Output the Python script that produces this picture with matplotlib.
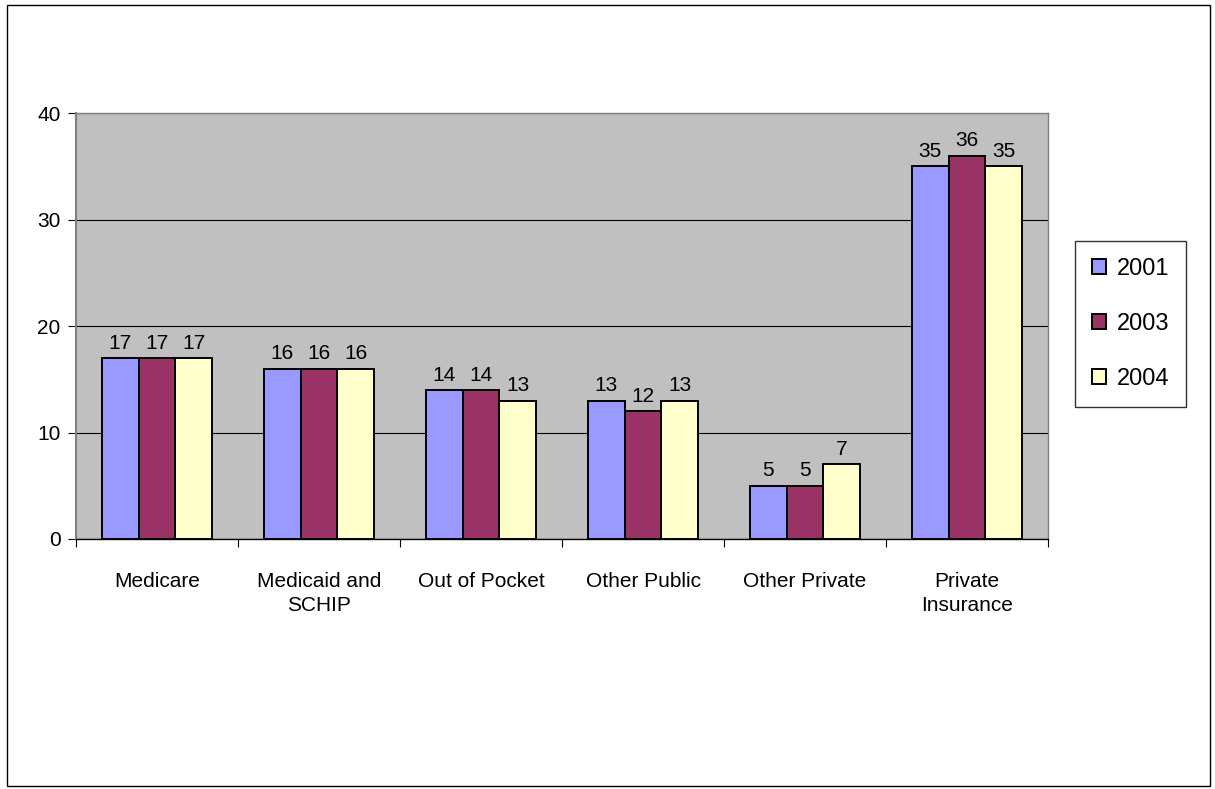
import matplotlib
matplotlib.use("Agg")
import matplotlib.pyplot as plt
import numpy as np
from matplotlib.patches import Rectangle

categories = ["Medicare", "Medicaid and\nSCHIP", "Out of Pocket", "Other Public",
              "Other Private", "Private\nInsurance"]
years = ["2001", "2003", "2004"]
v2001 = [17, 16, 14, 13, 5, 35]
v2003 = [17, 16, 14, 12, 5, 36]
v2004 = [17, 16, 13, 13, 7, 35]
series = [v2001, v2003, v2004]
colors = ["#9999FF", "#993366", "#FFFFCC"]

plt.rcParams["font.family"] = ["Liberation Sans", "DejaVu Sans"]

W, H = 1215, 789
fig = plt.figure(figsize=(W / 100, H / 100), dpi=100)
fig.patch.set_facecolor("white")

# outer chart border
fig.add_artist(Rectangle((7 / W, 1 - 786 / H), (1210 - 7) / W, (786 - 5) / H,
                         transform=fig.transFigure, fill=False,
                         edgecolor="black", linewidth=1.0))

x0, x1, y0, y1 = 76, 1048, 113, 539
ax = fig.add_axes([x0 / W, 1 - y1 / H, (x1 - x0) / W, (y1 - y0) / H])
ax.set_facecolor("#C0C0C0")

n = len(categories)
x = np.arange(n)
bw = 0.227
for i, (vals, c) in enumerate(zip(series, colors)):
    pos = x + (i - 1) * bw
    ax.bar(pos, vals, width=bw, color=c, edgecolor="black",
           linewidth=1.4, label=years[i], zorder=3)
    for p, v in zip(pos, vals):
        ax.text(p, v + 0.5, str(v), ha="center", va="bottom", fontsize=15, zorder=4)

ax.set_xlim(-0.5, n - 0.5)
ax.set_ylim(0, 40)
ax.set_yticks([0, 10, 20, 30, 40])
ax.yaxis.grid(True, color="black", linewidth=0.8, zorder=1)
ax.set_axisbelow(True)

ax.set_xticks(np.arange(-0.5, n, 1.0), minor=False)
ax.set_xticklabels([])
ax.set_xticks(x, minor=True)
ax.set_xticklabels(categories, minor=True, fontsize=15)
ax.tick_params(axis="x", which="minor", length=0, pad=24)
ax.tick_params(axis="x", which="major", length=6, direction="out", color="black")
ax.tick_params(axis="y", length=6, direction="out", labelsize=15, pad=5)
for lab in ax.get_xticklabels(minor=True):
    lab.set_linespacing(1.3)

for s in ["top", "right"]:
    ax.spines[s].set_color("#808080")
    ax.spines[s].set_linewidth(1.0)
ax.spines["left"].set_color("#808080")
ax.spines["left"].set_linewidth(1.5)
ax.spines["bottom"].set_color("black")
ax.spines["bottom"].set_linewidth(1.0)

leg = fig.legend(loc="upper left", bbox_to_anchor=(1075 / W, 1 - 241 / H),
                 frameon=True, fancybox=False, fontsize=17, handlelength=0.6,
                 handleheight=0.6, handletextpad=0.45, labelspacing=1.4,
                 borderpad=0.72, borderaxespad=0)
leg.get_frame().set_edgecolor("black")
leg.get_frame().set_linewidth(1.0)

fig.savefig("out.png", dpi=100, facecolor="white")
